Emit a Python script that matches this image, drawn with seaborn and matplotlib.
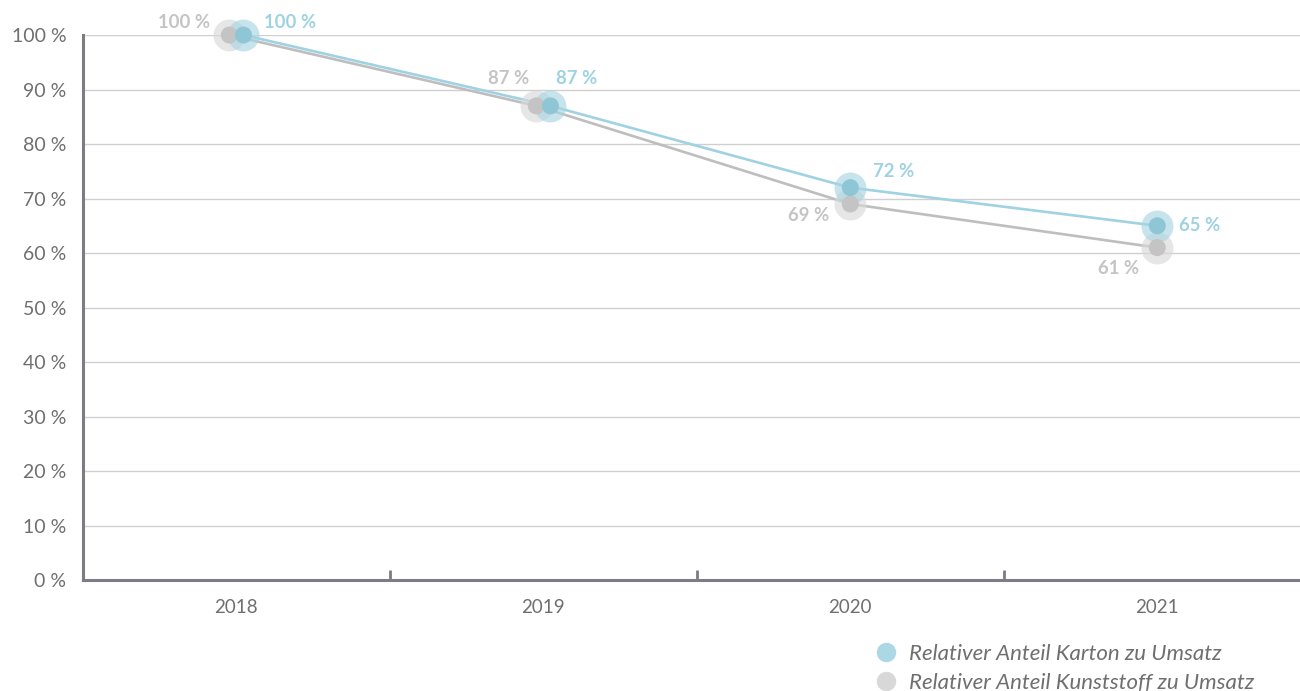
import numpy as np
import pandas as pd
import matplotlib
matplotlib.use("Agg")
import matplotlib.pyplot as plt
from matplotlib.lines import Line2D
from matplotlib.ticker import FixedLocator
import seaborn as sns

years = ["2018", "2019", "2020", "2021"]
karton = [100, 87, 72, 65]
kunststoff = [100, 87, 69, 61]
series_names = ["Relativer Anteil Karton zu Umsatz", "Relativer Anteil Kunststoff zu Umsatz"]

sns.set_style("white")
plt.rcParams["font.family"] = ["Lato", "DejaVu Sans"]

blue_line = "#9fd2e2"
blue_dot = "#8fc6d5"
blue_halo = "#a9d5e1"
grey_line = "#bebebe"
grey_dot = "#c4c4c4"
grey_halo = "#d9d9d9"
axis_col = "#7c7b86"
text_col = "#6f6f6f"

fig = plt.figure(figsize=(13, 6.91), dpi=100)
ax = fig.add_axes([0.0638, 0.1606, 0.9362, 0.7887])

idx = np.arange(len(years))
# nudge the two points apart where the values coincide
same = np.array(karton) == np.array(kunststoff)
shift = np.where(same & (idx < 2), 0.023, 0.0)
df = pd.DataFrame({
    "x": np.concatenate([idx + shift, idx - shift]),
    "val": karton + kunststoff,
    "serie": [series_names[0]] * 4 + [series_names[1]] * 4,
})

# gray first so blue sits on top
for name, lc, dc, hc in [(series_names[1], grey_line, grey_dot, grey_halo),
                         (series_names[0], blue_line, blue_dot, blue_halo)]:
    sub = df[df["serie"] == name]
    sns.lineplot(data=sub, x="x", y="val", color=lc, linewidth=1.9, ax=ax,
                 legend=False, zorder=3)
    ax.plot(sub["x"], sub["val"], "o", ms=23, color=hc, alpha=0.65, mec="none",
            zorder=4, clip_on=False)
    sns.scatterplot(data=sub, x="x", y="val", color=dc, s=150, edgecolor="none",
                    ax=ax, legend=False, zorder=5, clip_on=False)

# data labels
blue_off = [(15, 9), (4, 20), (16, 11.5), (16, 0)]
grey_off = [(-14, 9), (-5, 20), (-15, -8), (-13, -15)]
for i in idx:
    ax.annotate(f"{karton[i]} %", (i + shift[i], karton[i]), xytext=blue_off[i],
                textcoords="offset points", ha="left", va="center",
                fontsize=13.3, fontweight="bold", color=blue_line, zorder=6)
    ax.annotate(f"{kunststoff[i]} %", (i - shift[i], kunststoff[i]), xytext=grey_off[i],
                textcoords="offset points", ha="right", va="center",
                fontsize=13.3, fontweight="bold", color=grey_dot, zorder=6)

ax.set_xlim(-0.5, 3.465)
ax.set_ylim(0, 100)
ax.set_yticks(range(0, 101, 10))
ax.set_yticklabels([f"{v} %" for v in range(0, 101, 10)])
ax.set_xticks(idx)
ax.set_xticklabels(years)
ax.xaxis.set_minor_locator(FixedLocator([0.5, 1.5, 2.5]))
ax.tick_params(axis="x", which="major", bottom=True, length=0, pad=14,
               labelsize=13.5, labelcolor=text_col)
ax.tick_params(axis="x", which="minor", bottom=True, direction="in", length=7.5,
               width=2, color=axis_col)
ax.tick_params(axis="y", length=0, pad=12, labelsize=14, labelcolor=text_col)
ax.set_xlabel("")
ax.set_ylabel("")
ax.grid(axis="y", color="#cfcfcf", linewidth=1)
ax.set_axisbelow(True)
for s in ["top", "right"]:
    ax.spines[s].set_visible(False)
for s in ["left", "bottom"]:
    ax.spines[s].set_color(axis_col)
    ax.spines[s].set_linewidth(2.2)

handles = [Line2D([], [], marker="o", ls="none", ms=14, color="#acd8e6", mec="none"),
           Line2D([], [], marker="o", ls="none", ms=14, color="#d8d8d8", mec="none")]
leg = fig.legend(handles, series_names, loc="lower left", bbox_to_anchor=(0.649, -0.032),
                 frameon=False, handletextpad=0.05, labelspacing=0.4,
                 prop={"style": "italic", "size": 16})
for t in leg.get_texts():
    t.set_color(text_col)

fig.savefig("out.png", dpi=100)
